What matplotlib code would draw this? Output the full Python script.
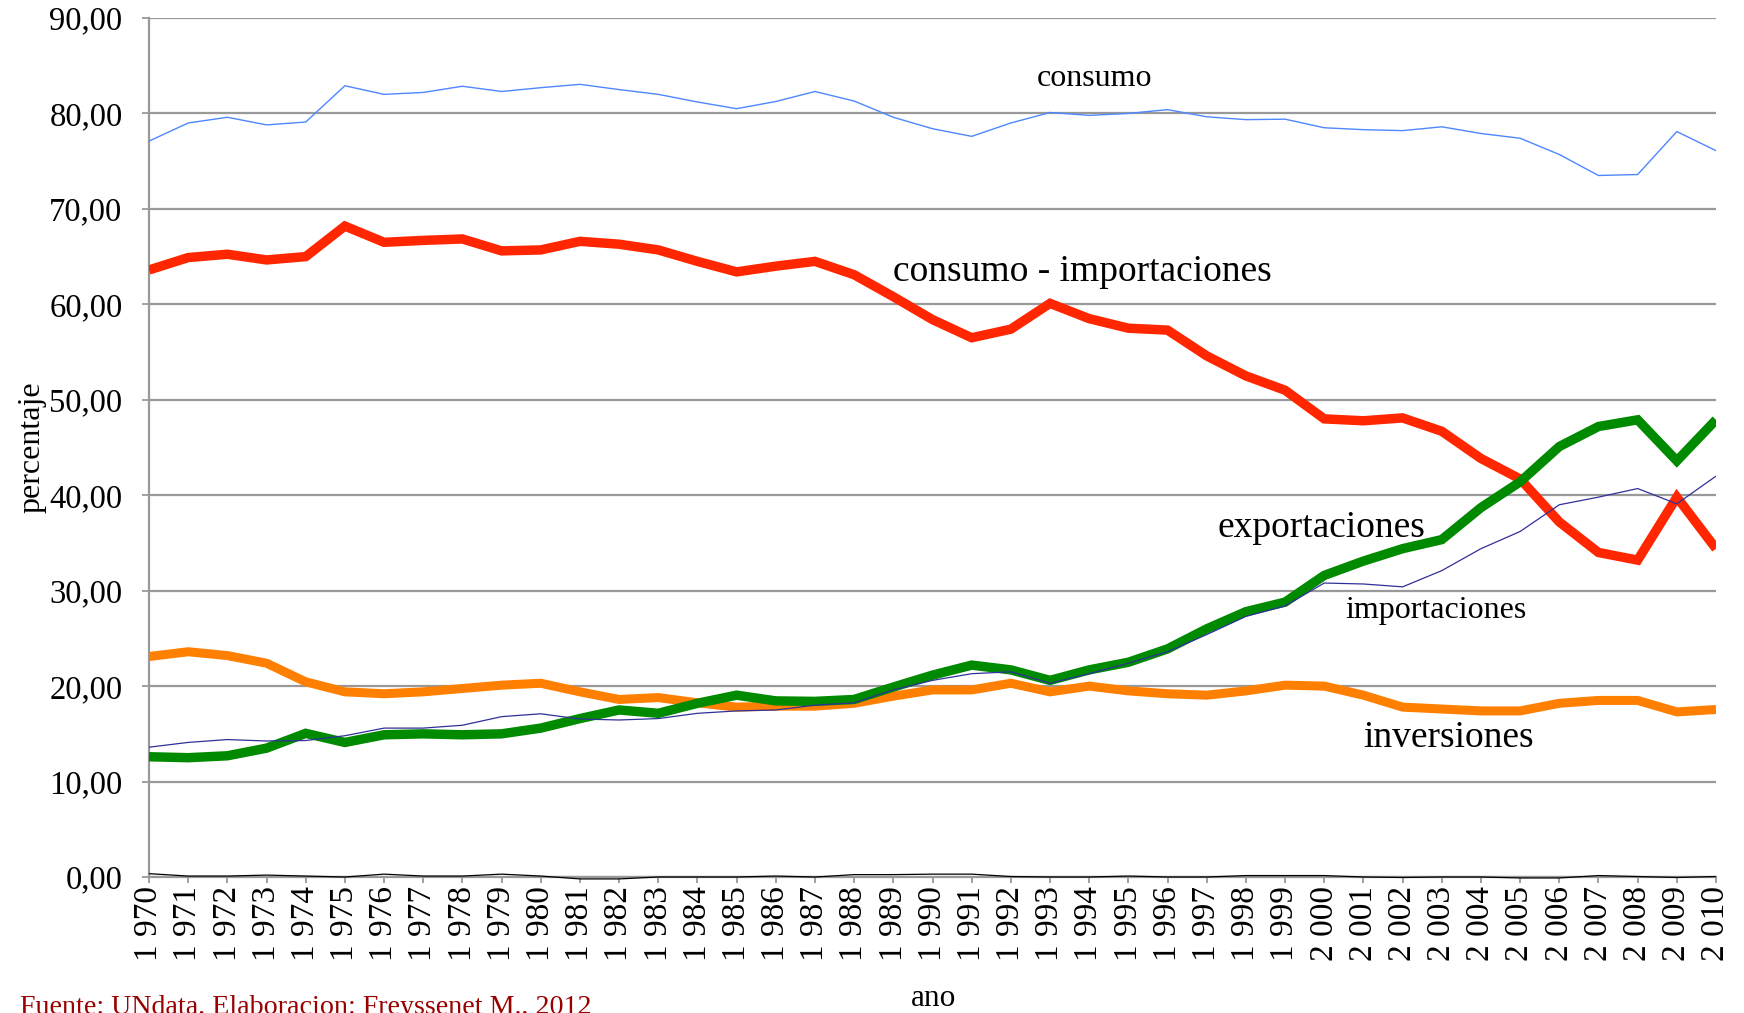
import matplotlib
matplotlib.use("Agg")
import matplotlib.pyplot as plt
from matplotlib.ticker import FuncFormatter

plt.rcParams['font.family'] = ['Liberation Serif', 'DejaVu Serif']

years = list(range(1970, 2011))

consumo = [77.1, 79.0, 79.6, 78.8, 79.1, 82.9, 82.0, 82.2, 82.85, 82.3,
           82.7, 83.05, 82.5, 82.0, 81.2, 80.5, 81.25, 82.3, 81.3, 79.6,
           78.4, 77.6, 79.0, 80.1, 79.8, 80.0, 80.4, 79.65, 79.35, 79.4,
           78.5, 78.3, 78.2, 78.6, 77.9, 77.4, 75.7, 73.5, 73.6, 78.1, 76.1]

consumo_importaciones = [63.6, 64.9, 65.25, 64.65, 65.0, 68.2, 66.5, 66.7, 66.85, 65.6,
                         65.7, 66.6, 66.3, 65.7, 64.5, 63.4, 64.0, 64.5, 63.1, 60.8,
                         58.4, 56.5, 57.4, 60.1, 58.5, 57.5, 57.3, 54.6, 52.5, 51.0,
                         48.0, 47.8, 48.1, 46.7, 43.85, 41.7, 37.2, 34.0, 33.2, 39.8, 34.4]

exportaciones = [12.6, 12.5, 12.7, 13.5, 15.05, 14.1, 14.9, 15.0, 14.9, 15.0,
                 15.6, 16.6, 17.5, 17.15, 18.2, 19.05, 18.45, 18.4, 18.6, 19.9,
                 21.15, 22.2, 21.7, 20.6, 21.7, 22.5, 23.9, 26.0, 27.8, 28.8,
                 31.6, 33.1, 34.4, 35.35, 38.7, 41.4, 45.1, 47.2, 47.9, 43.6, 47.9]

importaciones = [13.6, 14.1, 14.4, 14.25, 14.3, 14.8, 15.6, 15.6, 15.9, 16.8,
                 17.1, 16.55, 16.45, 16.6, 17.15, 17.4, 17.5, 18.0, 18.25, 19.6,
                 20.6, 21.3, 21.5, 20.3, 21.3, 22.4, 23.6, 25.4, 27.3, 28.4,
                 30.8, 30.7, 30.4, 32.1, 34.4, 36.2, 39.0, 39.8, 40.7, 39.1, 42.0]

inversiones = [23.1, 23.6, 23.2, 22.4, 20.45, 19.4, 19.2, 19.4, 19.75, 20.1,
               20.3, 19.4, 18.6, 18.8, 18.25, 17.8, 17.9, 17.9, 18.2, 18.95,
               19.6, 19.6, 20.3, 19.4, 20.0, 19.5, 19.2, 19.05, 19.5, 20.1,
               20.0, 19.05, 17.8, 17.6, 17.4, 17.4, 18.2, 18.5, 18.5, 17.3, 17.55]

residuo = [0.35, 0.1, 0.1, 0.2, 0.1, 0.0, 0.3, 0.1, 0.1, 0.3,
           0.1, -0.2, -0.2, 0.0, 0.0, 0.0, 0.1, 0.0, 0.25, 0.25,
           0.3, 0.3, 0.05, 0.0, 0.0, 0.1, 0.0, 0.0, 0.15, 0.15,
           0.15, 0.0, -0.05, 0.0, 0.0, -0.1, -0.1, 0.15, 0.05, -0.05, 0.05]

W, H = 1744, 1013
fig = plt.figure(figsize=(W / 100, H / 100), dpi=100)
ax = fig.add_axes([149 / W, 1 - 877 / H, (1716 - 149) / W, (877 - 18) / H])

grid_c = '#999999'
ax.set_xlim(1970, 2010)
ax.set_ylim(0, 90)
ax.set_yticks(range(0, 91, 10))
ax.set_xticks(years)
ax.yaxis.grid(True, color=grid_c, linewidth=1.6, zorder=0)
ax.set_axisbelow(True)
for s in ['top', 'right']:
    ax.spines[s].set_visible(False)
for s in ['left', 'bottom']:
    ax.spines[s].set_color(grid_c)
    ax.spines[s].set_linewidth(1.6)

ax.yaxis.set_major_formatter(FuncFormatter(lambda v, p: f"{v:.2f}".replace('.', ',')))
ax.xaxis.set_major_formatter(FuncFormatter(lambda v, p: f"{int(v) // 1000} {int(v) % 1000:03d}"))
ax.tick_params(axis='y', direction='out', length=5, width=1.3, color=grid_c,
               labelsize=23.5, pad=14)
ax.tick_params(axis='x', direction='out', length=4.5, width=1.3, color=grid_c,
               labelsize=24, pad=2, labelrotation=90)

kw = dict(solid_joinstyle='miter', solid_capstyle='butt')
ax.plot(years, consumo, color='#4f87ff', linewidth=1.0, zorder=3, **kw)
ax.plot(years, consumo_importaciones, color='#ff2600', linewidth=6.8, zorder=4, **kw)
ax.plot(years, inversiones, color='#ff8000', linewidth=6.5, zorder=5, **kw)
ax.plot(years, exportaciones, color='#008a00', linewidth=6.8, zorder=6, **kw)
ax.plot(years, importaciones, color='#30309a', linewidth=0.9, zorder=7, **kw)
ax.plot(years, residuo, color='#000000', linewidth=0.9, zorder=8, clip_on=False, **kw)

ax.text(1992.67, 82.9, 'consumo', fontsize=23, ha='left', va='baseline', zorder=10)
ax.text(1989.0, 62.4, 'consumo - importaciones', fontsize=27, ha='left', va='baseline', zorder=10)
ax.text(1997.27, 35.6, 'exportaciones', fontsize=27, ha='left', va='baseline', zorder=10)
ax.text(2000.54, 27.1, 'importaciones', fontsize=23, ha='left', va='baseline', zorder=10)
ax.text(2001.0, 13.65, 'inversiones', fontsize=27, ha='left', va='baseline', zorder=10)

fig.text(32 / W, 1 - 447 / H, 'percentaje', rotation=90, fontsize=23,
         ha='center', va='center')
fig.text(933 / W, 1 - 998 / H, 'ano', fontsize=22.5, ha='center', va='center')
fig.text(20 / W, 1 - 995 / H, 'Fuente: UNdata, Elaboracion: Freyssenet M., 2012',
         fontsize=20.2, color='#990000', ha='left', va='top')

fig.savefig('out.png', dpi=100)
